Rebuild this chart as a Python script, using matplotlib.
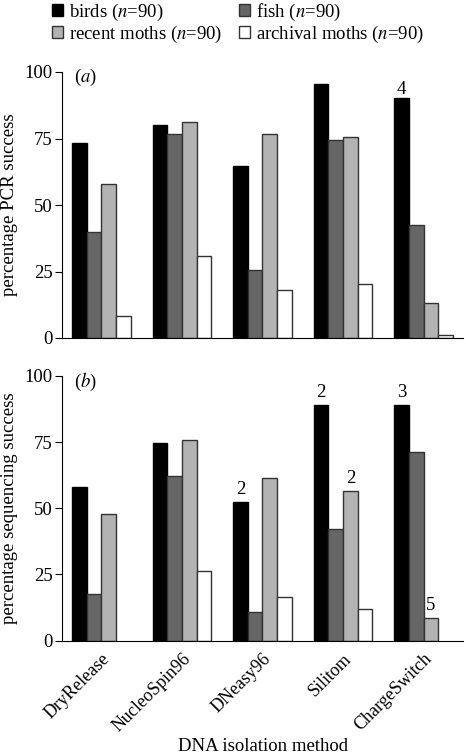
import matplotlib
matplotlib.use('Agg')
import matplotlib.pyplot as plt
import numpy as np
from matplotlib.patches import Patch

plt.rcParams['font.family'] = ['Liberation Serif', 'DejaVu Serif']
plt.rcParams['mathtext.fontset'] = 'stix'
plt.rcParams['font.size'] = 13.5

methods = ['DryRelease', 'NucleoSpin96', 'DNeasy96', 'Silitom', 'ChargeSwitch']
groups = ['birds', 'fish', 'recent moths', 'archival moths']
colors = ['#000000', '#666666', '#b3b3b3', '#ffffff']

# percentage PCR success (a)
pcr_birds = [73.4, 80.1, 64.5, 95.6, 90.1]
pcr_fish = [40.0, 76.7, 25.6, 74.4, 42.4]
pcr_recent = [57.8, 81.2, 76.7, 75.6, 13.3]
pcr_archival = [8.3, 30.9, 18.0, 20.2, 1.1]

# percentage sequencing success (b)
seq_birds = [57.9, 74.7, 52.2, 89.0, 89.0]
seq_fish = [17.6, 62.3, 10.9, 42.2, 71.1]
seq_recent = [47.8, 75.8, 61.3, 56.6, 8.6]
seq_archival = [0.0, 26.2, 16.4, 11.8, 0.0]

# small numbers printed above some bars: (method index, group index, text)
pcr_notes = [(4, 0, '4')]
seq_notes = [(2, 0, '2'), (3, 0, '2'), (3, 2, '2'), (4, 0, '3'), (4, 2, '5')]

W, H = 466, 756
fig = plt.figure(figsize=(W / 100, H / 100), dpi=100)
ax_a = fig.add_axes([62 / W, 1 - 338 / H, 401 / W, 266 / H])
ax_b = fig.add_axes([62 / W, 1 - 640.5 / H, 401 / W, 264.5 / H])

bw = 0.183
x = np.arange(len(methods))


def draw(ax, series, notes, ylabel, tag, gap):
    for j, vals in enumerate(series):
        pos = x - 1.5 * bw + j * bw
        edge = '#000000' if j == 0 else '#333333'
        keep = [v > 0 for v in vals]
        ax.bar(pos[keep], np.array(vals)[keep], width=bw, color=colors[j],
               edgecolor=edge, linewidth=1.0)
    for i, j, t in notes:
        ax.text(x[i] - 1.5 * bw + j * bw, series[j][i] + gap, t,
                ha='center', va='bottom', fontsize=13.5)
    ax.set_xlim(-0.49, 4.49)
    ax.set_ylim(0, 100)
    ax.set_yticks([0, 25, 50, 75, 100])
    ax.tick_params(axis='y', direction='out', length=5, width=0.8,
                   labelsize=13.5, pad=1.5)
    ax.tick_params(axis='x', length=0)
    ax.spines['top'].set_visible(False)
    ax.spines['right'].set_visible(False)
    ax.set_ylabel(ylabel, fontsize=13.5, labelpad=5)
    ax.text(0.03, 1.02, tag, transform=ax.transAxes, ha='left', va='top',
            fontsize=13.5)


draw(ax_a, [pcr_birds, pcr_fish, pcr_recent, pcr_archival], pcr_notes,
     'percentage PCR success', r'($a$)', 0.3)
draw(ax_b, [seq_birds, seq_fish, seq_recent, seq_archival], seq_notes,
     'percentage sequencing success', r'($b$)', 1.5)

ax_a.set_xticks(x)
ax_a.set_xticklabels([])
ax_b.set_xticks(x)
ax_b.set_xticklabels(methods, rotation=45, ha='right', rotation_mode='anchor',
                     fontsize=13)
ax_b.tick_params(axis='x', pad=7)
ax_b.set_xlabel('DNA isolation method', fontsize=13.5, labelpad=2)

handles = [Patch(facecolor=c, edgecolor='#000000' if k == 0 else '#333333', linewidth=1.0)
           for k, c in enumerate(colors)]
labels = [g + r' ($n$=90)' for g in groups]
# order so row 1 is birds/fish and row 2 recent/archival
fig.legend([handles[0], handles[2], handles[1], handles[3]],
           [labels[0], labels[2], labels[1], labels[3]],
           ncol=2, loc='upper left', bbox_to_anchor=(50 / W, 1.0),
           frameon=False, fontsize=13.5, handlelength=0.6, handleheight=0.6,
           handletextpad=0.3, columnspacing=0.9, labelspacing=0.05,
           borderaxespad=0.0, borderpad=0.1)

fig.savefig('out.png', dpi=100)
